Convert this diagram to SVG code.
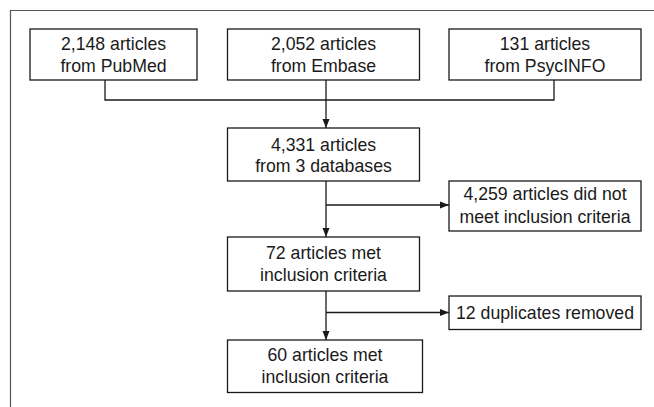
<svg xmlns="http://www.w3.org/2000/svg" width="654" height="407" viewBox="0 0 654 407">
<defs>
<style>
.box{fill:#fff;stroke:#1a1a1a;stroke-width:1.3}
.t{font-family:"Liberation Sans",Arial,sans-serif;font-size:17.7px;fill:#1a1a1a;text-anchor:middle}
.c{fill:none;stroke:#1a1a1a;stroke-width:1.3}
.frame{fill:none;stroke:#555;stroke-width:1.2}
</style>
<marker id="ah" viewBox="0 0 9 8" refX="9" refY="4" markerWidth="9" markerHeight="8" markerUnits="userSpaceOnUse" orient="auto">
<path d="M0,0.5 L9,4 L0,7.5 Z" fill="#1a1a1a"/>
</marker>
</defs>
<rect width="654" height="407" fill="#fff"/>
<path class="frame" d="M10.5,407 V10.5 H654"/>
<g id="connectors">
<path class="c" d="M105,80 V100 H554 V80"/>
<path class="c" d="M326,80 V128" marker-end="url(#ah)"/>
<path class="c" d="M326,181 V237" marker-end="url(#ah)"/>
<path class="c" d="M326,205 H449" marker-end="url(#ah)"/>
<path class="c" d="M326,291 V340" marker-end="url(#ah)"/>
<path class="c" d="M326,312.5 H449" marker-end="url(#ah)"/>
</g>
<g id="pubmed">
<rect class="box" x="30" y="29" width="167" height="51"/>
<text class="t" x="113.5" y="50">2,148 articles</text>
<text class="t" x="113.5" y="72">from PubMed</text>
</g>
<g id="embase">
<rect class="box" x="227.5" y="29" width="192" height="51"/>
<text class="t" x="323.5" y="50">2,052 articles</text>
<text class="t" x="323.5" y="72">from Embase</text>
</g>
<g id="psycinfo">
<rect class="box" x="449" y="29" width="192" height="51"/>
<text class="t" x="545" y="50">131 articles</text>
<text class="t" x="545" y="72">from PsycINFO</text>
</g>
<g id="combined">
<rect class="box" x="227.5" y="128" width="192" height="53"/>
<text class="t" x="323.5" y="150.5">4,331 articles</text>
<text class="t" x="323.5" y="172">from 3 databases</text>
</g>
<g id="excluded">
<rect class="box" x="449" y="181" width="192" height="50"/>
<text class="t" x="545" y="200">4,259 articles did not</text>
<text class="t" x="545" y="222.5">meet inclusion criteria</text>
</g>
<g id="met72">
<rect class="box" x="227.5" y="237" width="192" height="54"/>
<text class="t" x="323.5" y="259.3">72 articles met</text>
<text class="t" x="323.5" y="280.7">inclusion criteria</text>
</g>
<g id="duplicates">
<rect class="box" x="449" y="296" width="192" height="33.5"/>
<text class="t" x="545" y="318.5">12 duplicates removed</text>
</g>
<g id="met60">
<rect class="box" x="227.5" y="340" width="195" height="52.5"/>
<text class="t" x="325" y="360.7">60 articles met</text>
<text class="t" x="325" y="382.7">inclusion criteria</text>
</g>
</svg>
